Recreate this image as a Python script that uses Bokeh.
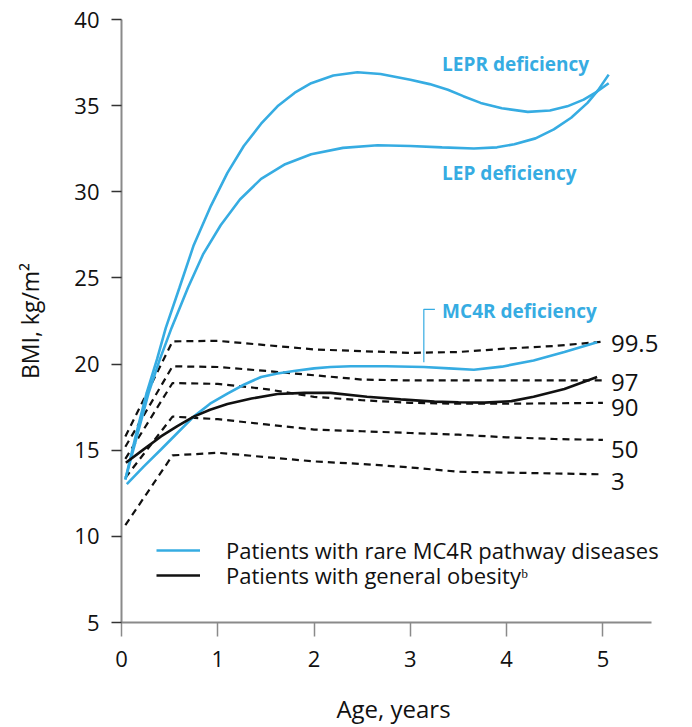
from bokeh.plotting import figure
from bokeh.models import Range1d, Legend, LegendItem, ColumnDataSource
from bokeh.core.properties import value
from bokeh.embed import file_html
from bokeh.resources import INLINE

FONT = "Open Sans"
BLUE = "#36ACE2"
DARK = "#111111"

# ---------------- data ----------------
lepr_age = [0.04, 0.15, 0.26, 0.37, 0.46, 0.6, 0.75, 0.93, 1.1, 1.27, 1.45, 1.62, 1.8, 1.97, 2.2,
            2.45, 2.69, 3.0, 3.2, 3.39, 3.55, 3.73, 3.95, 4.22, 4.45, 4.63, 4.8, 4.94, 5.06]
lepr_bmi = [13.3, 15.9, 18.3, 20.3, 22.1, 24.4, 26.9, 29.2, 31.1, 32.66, 33.95, 34.96, 35.75, 36.3, 36.75,
            36.94, 36.84, 36.5, 36.25, 35.92, 35.55, 35.16, 34.85, 34.64, 34.72, 34.96, 35.35, 35.82, 36.3]

lep_age = [0.04, 0.16, 0.28, 0.4, 0.52, 0.69, 0.85, 1.03, 1.23, 1.45, 1.7, 1.97, 2.3, 2.66, 3.0,
           3.33, 3.66, 3.9, 4.08, 4.3, 4.49, 4.67, 4.84, 4.95, 5.06]
lep_bmi = [13.3, 15.8, 18.3, 20.3, 22.1, 24.43, 26.4, 28.06, 29.55, 30.75, 31.6, 32.18, 32.55, 32.7, 32.66,
           32.58, 32.51, 32.58, 32.76, 33.1, 33.62, 34.3, 35.16, 35.9, 36.8]

mc4r_age = [0.055, 0.23, 0.41, 0.58, 0.75, 0.92, 1.1, 1.27, 1.45, 1.62, 1.79, 2.0, 2.17, 2.38, 2.75,
            3.14, 3.4, 3.66, 3.95, 4.28, 4.6, 4.94]
mc4r_bmi = [13.03, 14.05, 15.04, 16.0, 16.95, 17.7, 18.29, 18.8, 19.25, 19.45, 19.6, 19.75, 19.83, 19.87, 19.87,
            19.83, 19.75, 19.67, 19.85, 20.21, 20.7, 21.26]

gen_age = [0.045, 0.23, 0.41, 0.58, 0.75, 0.92, 1.1, 1.35, 1.62, 1.9, 2.17, 2.55, 2.9, 3.25, 3.5,
           3.77, 4.05, 4.28, 4.6, 4.94]
gen_bmi = [14.27, 15.05, 15.8, 16.4, 16.95, 17.35, 17.68, 18.0, 18.26, 18.33, 18.33, 18.1, 17.95, 17.82, 17.78,
           17.76, 17.85, 18.1, 18.55, 19.25]

pct_age = [0.04, 0.53, 1.0, 1.5, 2.0, 2.5, 3.0, 3.5, 4.0, 4.5, 5.0]
p995 = [15.8, 21.32, 21.35, 21.1, 20.85, 20.75, 20.65, 20.7, 20.9, 21.05, 21.3]
p97 = [15.2, 19.87, 19.83, 19.6, 19.35, 19.1, 19.05, 19.05, 19.05, 19.05, 19.05]
p90 = [14.5, 18.9, 18.85, 18.55, 18.1, 17.9, 17.75, 17.7, 17.7, 17.72, 17.75]
p50 = [13.4, 16.95, 16.8, 16.5, 16.2, 16.1, 16.0, 15.9, 15.75, 15.65, 15.6]
p3 = [10.65, 14.7, 14.85, 14.6, 14.35, 14.2, 14.0, 13.75, 13.7, 13.65, 13.6]
pct_labels = ["99.5", "97", "90", "50", "3"]

x_ticks = [0, 1, 2, 3, 4, 5]
y_ticks = [5, 10, 15, 20, 25, 30, 35, 40]

# ---------------- figure ----------------
p = figure(width=692, height=727, x_range=Range1d(0, 5.65), y_range=Range1d(5, 40),
           output_backend="svg", toolbar_location=None,
           min_border_left=121, min_border_right=27, min_border_top=19, min_border_bottom=99)
p.outline_line_color = None
p.xgrid.visible = False
p.ygrid.visible = False
p.background_fill_color = "white"

# percentile reference lines
pct_series = [p995, p97, p90, p50, p3]
for s in pct_series:
    p.line(pct_age, s, line_color=DARK, line_width=2.2, line_dash="7 5")

# percentile labels
lab_src = ColumnDataSource(dict(
    x=[pct_age[-1]] * len(pct_series),
    y=[s[-1] for s in pct_series],
    t=pct_labels,
    yo=[2, 2, 5, 10, 7],
))
p.text(x="x", y="y", text="t", y_offset="yo", x_offset=8, source=lab_src,
       text_font=value(FONT), text_font_size="24px", text_color=DARK,
       text_baseline="middle", text_align="left")

# patient curves
r_lepr = p.line(lepr_age, lepr_bmi, line_color=BLUE, line_width=2.6)
r_lep = p.line(lep_age, lep_bmi, line_color=BLUE, line_width=2.6)
r_mc4r = p.line(mc4r_age, mc4r_bmi, line_color=BLUE, line_width=2.6)
r_gen = p.line(gen_age, gen_bmi, line_color=DARK, line_width=2.6)

# annotations
for ty, txt in ((37.41, "LEPR deficiency"), (31.09, "LEP deficiency"), (23.1, "MC4R deficiency")):
    p.text(x=[3.33], y=[ty], text=[txt], text_font=value(FONT),
           text_font_size="19px", text_font_style="bold", text_color=BLUE,
           text_baseline="middle", text_align="left")
p.line([3.255, 3.14, 3.14], [23.18, 23.18, 20.1], line_color=BLUE, line_width=1.2)


# legend: two one-row legends so that row spacing can match the reference
def make_legend(label, renderer, loc):
    lg = Legend(items=[LegendItem(label=label, renderers=[renderer])], location=loc)
    lg.border_line_alpha = 0
    lg.background_fill_alpha = 0
    lg.padding = 0
    lg.margin = 0
    lg.glyph_width = 44
    lg.glyph_height = 20
    lg.label_height = 20
    lg.label_standoff = 26
    lg.label_text_font = FONT
    lg.label_text_font_size = "22px"
    lg.label_text_color = DARK
    return lg


p.add_layout(make_legend("Patients with rare MC4R pathway diseases", r_lepr, (35, 57)), "center")
p.add_layout(make_legend("Patients with general obesity\u1d47", r_gen, (35, 32)), "center")

# axes
for ax in (p.xaxis[0], p.yaxis[0]):
    ax.axis_line_color = "#8a8a8a"
    ax.axis_line_width = 2
    ax.major_tick_in = 0
    ax.minor_tick_line_color = None
    ax.major_label_text_font = FONT
    ax.major_label_text_font_size = "22px"
    ax.major_label_text_color = DARK
    ax.axis_label_text_font = FONT
    ax.axis_label_text_font_style = "normal"
    ax.axis_label_text_color = DARK

p.xaxis.ticker = x_ticks
p.xaxis.bounds = (0, 5.5)
p.xaxis.major_tick_out = 14
p.xaxis.major_tick_line_color = "#8a8a8a"
p.xaxis.major_tick_line_width = 1.5
p.xaxis.major_label_standoff = 14
p.xaxis.axis_label = "Age, years"
p.xaxis.axis_label_text_font_size = "24px"
p.xaxis.axis_label_standoff = 22

p.yaxis.ticker = y_ticks
p.yaxis.major_tick_out = 10
p.yaxis.major_tick_line_color = "#333333"
p.yaxis.major_tick_line_width = 1.5
p.yaxis.major_label_standoff = 12
p.yaxis.axis_label = "BMI, kg/m\u00b2"
p.yaxis.axis_label_text_font_size = "23px"
p.yaxis.axis_label_standoff = 25

open("out.html", "w").write(file_html(p, INLINE))
